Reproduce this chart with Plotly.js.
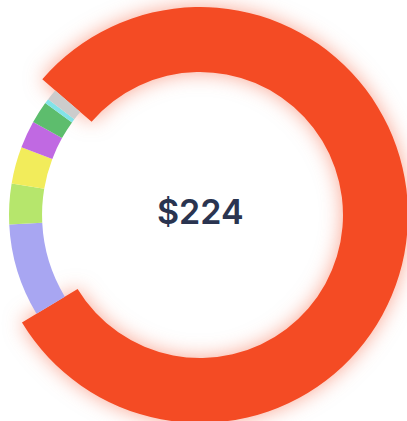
<!DOCTYPE html>
<html>
<head>
<meta charset="utf-8">
<script src="https://cdn.plot.ly/plotly-3.0.1.min.js"></script>
<style>
  html, body { margin: 0; padding: 0; width: 407px; height: 421px; overflow: hidden; background: #fff; }
  .layer { position: absolute; left: -8px; top: 7px; width: 416px; height: 416px; }
  #main { filter: drop-shadow(0 0 10px rgba(244, 75, 36, 0.5)); }
</style>
</head>
<body>
<div id="main" class="layer"></div>
<div id="rest" class="layer"></div>
<script>
// Data
const categories = ["Main", "Lavender", "Lime", "Yellow", "Purple", "Green", "Teal", "Gray"];
const values = [179.3, 17.6, 7.7, 7.0, 5.2, 4.2, 0.9, 2.1];
const colors = ["#f44b24", "#a8a6f2", "#b6e66c", "#f2ec5b", "#c069e2", "#5dbd6d", "#82e3e8", "#cccccc"];
const totalLabel = "$224";

const T = "rgba(0,0,0,0)";
const common = {
  type: "pie", labels: categories, values: values, sort: false,
  direction: "clockwise", rotation: -49.3, textinfo: "none",
  hoverinfo: "skip", showlegend: false
};

const mainTrace = Object.assign({}, common, {
  hole: 0.6875,
  domain: { x: [0, 1], y: [0, 1] },
  marker: { colors: colors.map((c, i) => i === 0 ? c : T), line: { width: 0 } }
});

const restTrace = Object.assign({}, common, {
  hole: 0.827,
  domain: { x: [17 / 416, 399 / 416], y: [17 / 416, 399 / 416] },
  marker: { colors: colors.map((c, i) => i === 0 ? T : c), line: { width: 0 } }
});

const baseLayout = {
  width: 416, height: 416,
  margin: { l: 0, r: 0, t: 0, b: 0 },
  paper_bgcolor: T, plot_bgcolor: T, showlegend: false
};

Plotly.newPlot("main", [mainTrace], Object.assign({}, baseLayout), { staticPlot: true });
Plotly.newPlot("rest", [restTrace], Object.assign({}, baseLayout, {
  annotations: [{
    x: 0.5, y: 0.5, xref: "paper", yref: "paper", showarrow: false,
    text: totalLabel, yshift: 4,
    font: { family: "Inter, sans-serif", size: 34, weight: 600, color: "#2a3450" }
  }]
}), { staticPlot: true });
</script>
</body>
</html>
